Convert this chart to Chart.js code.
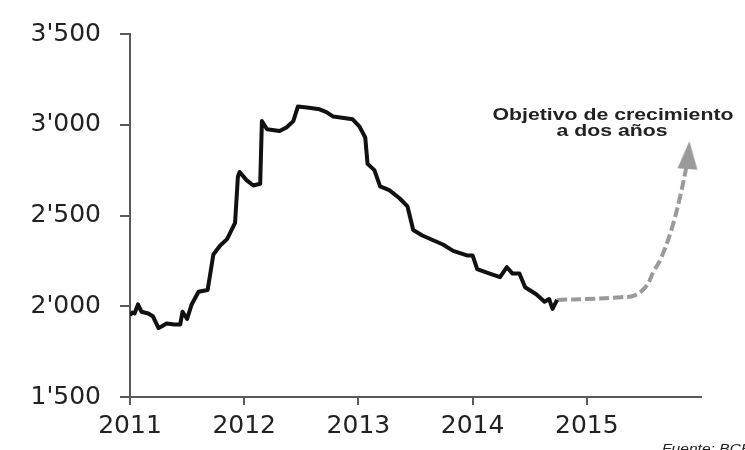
<!DOCTYPE html>
<html>
<head>
<meta charset="utf-8">
<script src="https://cdn.jsdelivr.net/npm/chart.js@4.4.0/dist/chart.umd.min.js"></script>
<style>
  html, body { margin: 0; padding: 0; background: #fff; }
  #wrap { width: 745px; height: 450px; }
</style>
</head>
<body>
<div id="wrap"><canvas id="myChart" width="745" height="450"></canvas></div>
<script>
// serie storica (anni decimali) e valori
var years = [2011.0, 2011.02, 2011.04, 2011.07, 2011.10, 2011.16, 2011.20, 2011.25, 2011.28, 2011.32,
  2011.39, 2011.44, 2011.46, 2011.50, 2011.54, 2011.60, 2011.68, 2011.73, 2011.79, 2011.85,
  2011.92, 2011.945, 2011.96, 2012.02, 2012.08, 2012.14, 2012.155, 2012.20, 2012.31, 2012.37,
  2012.43, 2012.47, 2012.55, 2012.66, 2012.72, 2012.78, 2012.95, 2013.01, 2013.06, 2013.08,
  2013.14, 2013.19, 2013.27, 2013.36, 2013.43, 2013.48, 2013.56, 2013.74, 2013.83, 2013.95,
  2014.00, 2014.04, 2014.15, 2014.24, 2014.30, 2014.35, 2014.41, 2014.46, 2014.56, 2014.63,
  2014.67, 2014.70, 2014.74];
var values = [1950, 1965, 1960, 2010, 1970, 1960, 1945, 1880, 1890, 1905,
  1900, 1900, 1970, 1930, 2010, 2080, 2090, 2285, 2335, 2370,
  2460, 2715, 2740, 2695, 2665, 2675, 3020, 2975, 2965, 2985,
  3020, 3100, 3095, 3085, 3070, 3045, 3030, 2990, 2930, 2785,
  2750, 2660, 2640, 2595, 2550, 2420, 2390, 2340, 2305, 2280,
  2280, 2205, 2180, 2160, 2215, 2180, 2180, 2105, 2065, 2025,
  2040, 1985, 2035];

// obiettivo (linea tratteggiata)
var targetYears = [2014.74, 2015.0, 2015.3, 2015.42, 2015.52, 2015.58, 2015.65, 2015.74, 2015.81, 2015.86, 2015.89];
var targetValues = [2035, 2040, 2050, 2060, 2110, 2185, 2265, 2420, 2585, 2730, 2833];

var yTicks = [1500, 2000, 2500, 3000, 3500];
var xTicks = [2011, 2012, 2013, 2014, 2015];

var axisColor = '#5a5a5a';
var dashColor = '#9a9a9a';

// punta della freccia (immagine usata come pointStyle)
var arrow = document.createElement('canvas');
arrow.width = 20; arrow.height = 28;
var actx = arrow.getContext('2d');
actx.fillStyle = dashColor;
actx.beginPath();
actx.moveTo(10, 0);
actx.lineTo(20, 28);
actx.lineTo(0, 28);
actx.closePath();
actx.fill();

function fmt(v) {
  var s = String(v);
  return s.length > 3 ? s.slice(0, s.length - 3) + "'" + s.slice(-3) : s;
}

var textPlugin = {
  id: 'testi',
  afterDraw: function (chart) {
    var c = chart.ctx;
    c.save();
    c.fillStyle = '#222';
    c.textAlign = 'center';
    c.font = 'bold 17px "Liberation Sans", Arial, sans-serif';
    c.save(); c.translate(613, 120); c.scale(1.25, 1); c.fillText('Objetivo de crecimiento', 0, 0); c.restore();
    c.save(); c.translate(612, 136); c.scale(1.25, 1); c.fillText('a dos años', 0, 0); c.restore();
    c.textAlign = 'left';
    c.font = 'italic 13px "Liberation Sans", Arial, sans-serif';
    c.save(); c.translate(662, 453); c.scale(1.2, 1); c.fillText('Fuente: BCE', 0, 0); c.restore();
    c.restore();
  }
};

var lastIdx = targetYears.length - 1;
var tickFont = { family: '"DejaVu Sans", sans-serif', size: 25 };
var ctx = document.getElementById('myChart');
var myChart = new Chart(ctx, {
  type: 'line',
  data: {
    datasets: [{
      data: years.map(function (y, i) { return { x: y, y: values[i] }; }),
      borderColor: '#111',
      borderWidth: 4,
      pointRadius: 0,
      tension: 0,
      borderJoinStyle: 'round'
    }, {
      data: targetYears.map(function (y, i) { return { x: y, y: targetValues[i] }; }),
      borderColor: dashColor,
      borderWidth: 4,
      borderDash: [10, 4],
      tension: 0.4,
      pointRadius: targetYears.map(function (_, i) { return i === lastIdx ? 10 : 0; }),
      pointStyle: targetYears.map(function (_, i) { return i === lastIdx ? arrow : 'circle'; }),
      pointRotation: targetYears.map(function (_, i) { return i === lastIdx ? 4 : 0; })
    }]
  },
  options: {
    responsive: false,
    animation: false,
    layout: { padding: { top: 28, right: 44, left: 0, bottom: 0 } },
    plugins: { legend: { display: false }, tooltip: { enabled: false } },
    scales: {
      x: {
        type: 'linear',
        min: 2011,
        max: 2016,
        afterBuildTicks: function (scale) {
          scale.ticks = xTicks.concat([2016]).map(function (v) { return { value: v }; });
        },
        afterFit: function (scale) { scale.height = 53; },
        border: { color: axisColor, width: 2 },
        grid: {
          drawOnChartArea: false,
          tickLength: 8,
          lineWidth: 2,
          color: function (c) { return c.tick && c.tick.value > 2015 ? 'rgba(0,0,0,0)' : axisColor; }
        },
        ticks: {
          padding: 6,
          maxRotation: 0,
          color: '#222',
          font: tickFont,
          callback: function (v) { return xTicks.indexOf(v) >= 0 ? String(v) : ''; }
        }
      },
      y: {
        min: 1500,
        max: 3500,
        afterBuildTicks: function (scale) {
          scale.ticks = yTicks.map(function (v) { return { value: v }; });
        },
        afterFit: function (scale) { scale.width = 130; },
        border: { color: axisColor, width: 2 },
        grid: { drawOnChartArea: false, tickLength: 10, lineWidth: 2, color: axisColor },
        ticks: {
          padding: 19,
          color: '#222',
          font: tickFont,
          callback: function (v) { return fmt(v); }
        }
      }
    }
  },
  plugins: [textPlugin]
});
</script>
</body>
</html>
